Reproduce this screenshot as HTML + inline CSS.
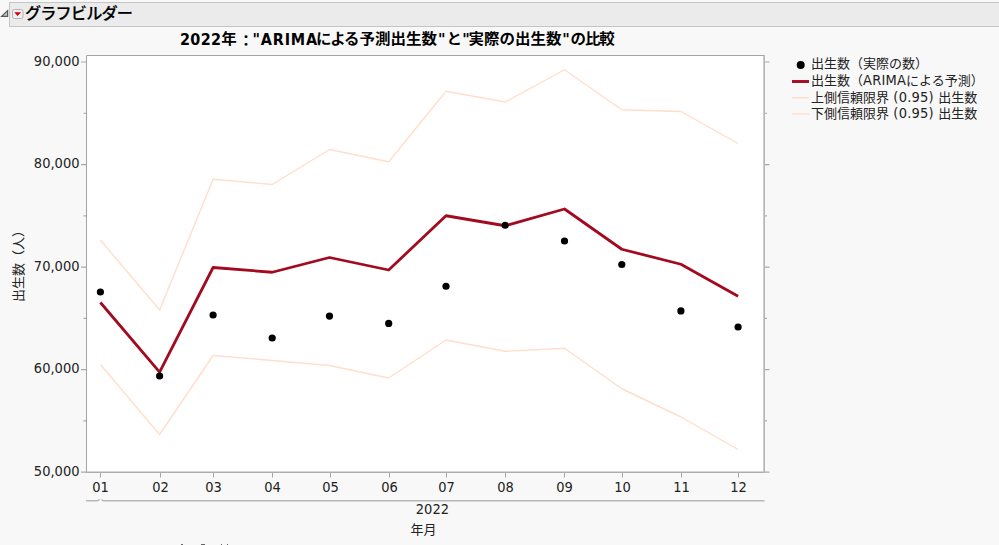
<!DOCTYPE html>
<html lang="ja"><head><meta charset="utf-8"><title>グラフビルダー</title>
<style>
html,body{margin:0;padding:0}
body{width:999px;height:545px;overflow:hidden;background:#f8f8f8;position:relative;
 font-family:"DejaVu Sans","Liberation Sans","Noto Sans CJK JP",sans-serif;font-size:13px;color:#222}
.t{position:absolute;white-space:nowrap;line-height:16px;height:16px}
#hdr{position:absolute;left:9px;top:2px;width:995px;height:23px;background:#ebebeb;border:1px solid #c5c5c5}
#hdrt{left:25px;top:1.4px;font-size:16.2px;letter-spacing:-0.9px;font-weight:500;-webkit-text-stroke:0.2px #000;line-height:22px;height:22px;color:#000;font-family:"Noto Sans CJK JP","Liberation Sans",sans-serif}
#title{left:180px;top:30px;font-size:16px;font-weight:bold;line-height:20px;height:20px;color:#000;font-family:"DejaVu Sans","Noto Sans CJK JP",sans-serif}
#title .s{position:absolute;top:0;font-size:15.5px}
#title .l{font-family:"DejaVu Sans Condensed","DejaVu Sans",sans-serif;font-stretch:condensed;font-size:16px;letter-spacing:0.3px}
#title .s.l{letter-spacing:0.8px}
#title .z{letter-spacing:-1.1px}
#title .j{position:relative;top:-0.75px}
#title .cl{position:relative;top:2px;left:1.5px}
#title .k{letter-spacing:-1.3px}
#title .c,#title .k,#title .j{display:inline-block;transform:scaleY(0.92);transform-origin:0 17px}
#title .c,#title .k{display:block;top:-0.75px}
.n{font-family:"DejaVu Sans Condensed","DejaVu Sans","Liberation Sans",sans-serif;font-stretch:condensed;font-size:14.5px;letter-spacing:0px}
.lg .n{letter-spacing:0.2px}
.yl{width:60px;text-align:right;left:19.5px}
.xl{width:40px;text-align:center}
.lg{left:811px}
#ytitle{left:18.5px;top:262.5px;transform:translate(-50%,-50%) rotate(-90deg);}
</style></head><body>
<div id="hdr"></div>
<svg width="999" height="545" viewBox="0 0 999 545" style="position:absolute;left:0;top:0">
<rect x="86" y="55" width="678.5" height="417.5" fill="#ffffff"/>
<path d="M86.5 473V55.5H764.5" fill="none" stroke="#a4a4a4" stroke-width="1"/>
<path d="M86 472.2H765" fill="none" stroke="#adadad" stroke-width="1.4"/>
<path d="M764.15 55V473" fill="none" stroke="#b6b6b6" stroke-width="1.7"/>
<path d="M81 62.0H86 M765 62.0H769.5 M83.5 113.27H86 M765 113.27H767 M81 164.54H86 M765 164.54H769.5 M83.5 215.81H86 M765 215.81H767 M81 267.08H86 M765 267.08H769.5 M83.5 318.35H86 M765 318.35H767 M81 369.62H86 M765 369.62H769.5 M83.5 420.89H86 M765 420.89H767 M81 472.16H86 M765 472.16H769.5" stroke="#a9a9a9" stroke-width="1.2" fill="none"/>
<path d="M100.5 473V477.5 M160.5 473V477.5 M213.5 473V477.5 M272.5 473V477.5 M330.5 473V477.5 M389.5 473V477.5 M446.5 473V477.5 M505.5 473V477.5 M564.5 473V477.5 M622.5 473V477.5 M681.5 473V477.5 M738.5 473V477.5" stroke="#a6a6a6" stroke-width="1" fill="none"/>
<path d="M86 500.7H97.6Q98.8 500.7 99 499.2 M101.8 499.2Q102 500.7 103.2 500.7H764.5" stroke="#b8b8b8" stroke-width="1.5" fill="none"/>
<polyline points="100.40,240.00 159.60,310.00 213.10,179.25 272.20,184.50 329.50,149.50 388.70,161.75 446.00,91.25 505.20,102.00 564.50,69.75 621.80,109.75 680.90,111.50 738.10,143.50" fill="none" stroke="#ffdecb" stroke-width="1.4" stroke-linejoin="round"/>
<polyline points="100.40,364.50 159.60,434.50 213.10,355.50 272.20,360.50 329.50,365.50 388.70,378.00 446.00,340.00 505.20,351.25 564.50,348.25 621.80,388.75 680.90,417.00 738.10,449.50" fill="none" stroke="#ffdecb" stroke-width="1.4" stroke-linejoin="round"/>
<polyline points="100.40,302.50 159.60,372.20 213.10,267.50 272.20,272.25 329.50,257.50 388.70,270.00 446.00,215.75 505.20,225.75 564.50,209.00 621.80,249.25 680.90,264.25 738.10,296.25" fill="none" stroke="#a20a1f" stroke-width="2.8" stroke-linejoin="round"/>
<circle cx="100.40" cy="292.00" r="3.6" fill="#000"/>
<circle cx="159.60" cy="376.00" r="3.6" fill="#000"/>
<circle cx="213.10" cy="315.00" r="3.6" fill="#000"/>
<circle cx="272.20" cy="338.00" r="3.6" fill="#000"/>
<circle cx="329.50" cy="316.10" r="3.6" fill="#000"/>
<circle cx="388.70" cy="323.40" r="3.6" fill="#000"/>
<circle cx="446.00" cy="286.25" r="3.6" fill="#000"/>
<circle cx="505.20" cy="225.25" r="3.6" fill="#000"/>
<circle cx="564.50" cy="241.00" r="3.6" fill="#000"/>
<circle cx="621.80" cy="264.50" r="3.6" fill="#000"/>
<circle cx="680.90" cy="310.90" r="3.6" fill="#000"/>
<circle cx="738.10" cy="327.00" r="3.6" fill="#000"/>
<circle cx="800.7" cy="65" r="4" fill="#000"/>
<path d="M792 81.5H809" stroke="#a10a1e" stroke-width="2.9"/>
<path d="M792 97.8H809 M792 114H809" stroke="#ffdecb" stroke-width="1.4"/>
<path d="M1.6 16.4H7.6V10.6Z" fill="#c4c4c4" stroke="#5a5a5a" stroke-width="1.25" stroke-linejoin="miter"/>
<rect x="12.5" y="9.5" width="10.5" height="9" rx="1.8" fill="#f0f0f0" stroke="#b4b4b4"/>
<path d="M14.2 12.2H21L17.6 16Z" fill="#d80000"/>
</svg>
<div class="t" id="hdrt">グラフビルダー</div>
<div class="t" id="title"><span class="s a" style="left:0.00px"><span class="l">2022</span><span class="j">年<span class="cl">：</span></span></span><span class="s l" style="left:72.50px">"ARIMA</span><span class="s k" style="left:136.10px">による</span><span class="s c" style="left:179.50px">予測出生数</span><span class="s l" style="left:257.90px">"</span><span class="s c" style="left:266.50px">と</span><span class="s l" style="left:282.30px">"</span><span class="s c" style="left:288.50px">実際の出生数</span><span class="s l" style="left:382.30px">"</span><span class="s c z" style="left:390.55px">の比較</span></div>
<div class="t yl n" style="top:53px">90,000</div>
<div class="t yl n" style="top:155px">80,000</div>
<div class="t yl n" style="top:258px">70,000</div>
<div class="t yl n" style="top:360px">60,000</div>
<div class="t yl n" style="top:463px">50,000</div>
<div class="t xl n" style="left:80.5px;top:478.5px">01</div>
<div class="t xl n" style="left:140.5px;top:478.5px">02</div>
<div class="t xl n" style="left:193.5px;top:478.5px">03</div>
<div class="t xl n" style="left:252.5px;top:478.5px">04</div>
<div class="t xl n" style="left:310.5px;top:478.5px">05</div>
<div class="t xl n" style="left:369.5px;top:478.5px">06</div>
<div class="t xl n" style="left:426.5px;top:478.5px">07</div>
<div class="t xl n" style="left:485.5px;top:478.5px">08</div>
<div class="t xl n" style="left:544.5px;top:478.5px">09</div>
<div class="t xl n" style="left:602.5px;top:478.5px">10</div>
<div class="t xl n" style="left:661.5px;top:478.5px">11</div>
<div class="t xl n" style="left:718.5px;top:478.5px">12</div>
<div class="t xl n" style="left:412.4px;top:501px">2022</div>
<div class="t xl" style="left:403.5px;top:522.4px">年月</div>
<div class="t" id="ytitle">出生数（人）</div>
<div class="t lg" style="top:56px">出生数（実際の数）</div>
<div class="t lg" style="top:72px">出生数（<span class=n>ARIMA</span>による予測）</div>
<div class="t lg" style="top:89px">上側信頼限界<span class=n> (0.95) </span>出生数</div>
<div class="t lg" style="top:105px">下側信頼限界<span class=n> (0.95) </span>出生数</div>
<div style="position:absolute;left:181.2px;top:544px;width:1.4px;height:1px;background:#666"></div>
<div style="position:absolute;left:201.2px;top:544px;width:1.4px;height:1px;background:#666"></div>
<div style="position:absolute;left:203.2px;top:544px;width:1.4px;height:1px;background:#666"></div>
<div style="position:absolute;left:220.5px;top:544px;width:1.4px;height:1px;background:#666"></div>
<div style="position:absolute;left:226.5px;top:544px;width:1.4px;height:1px;background:#666"></div>
</body></html>
